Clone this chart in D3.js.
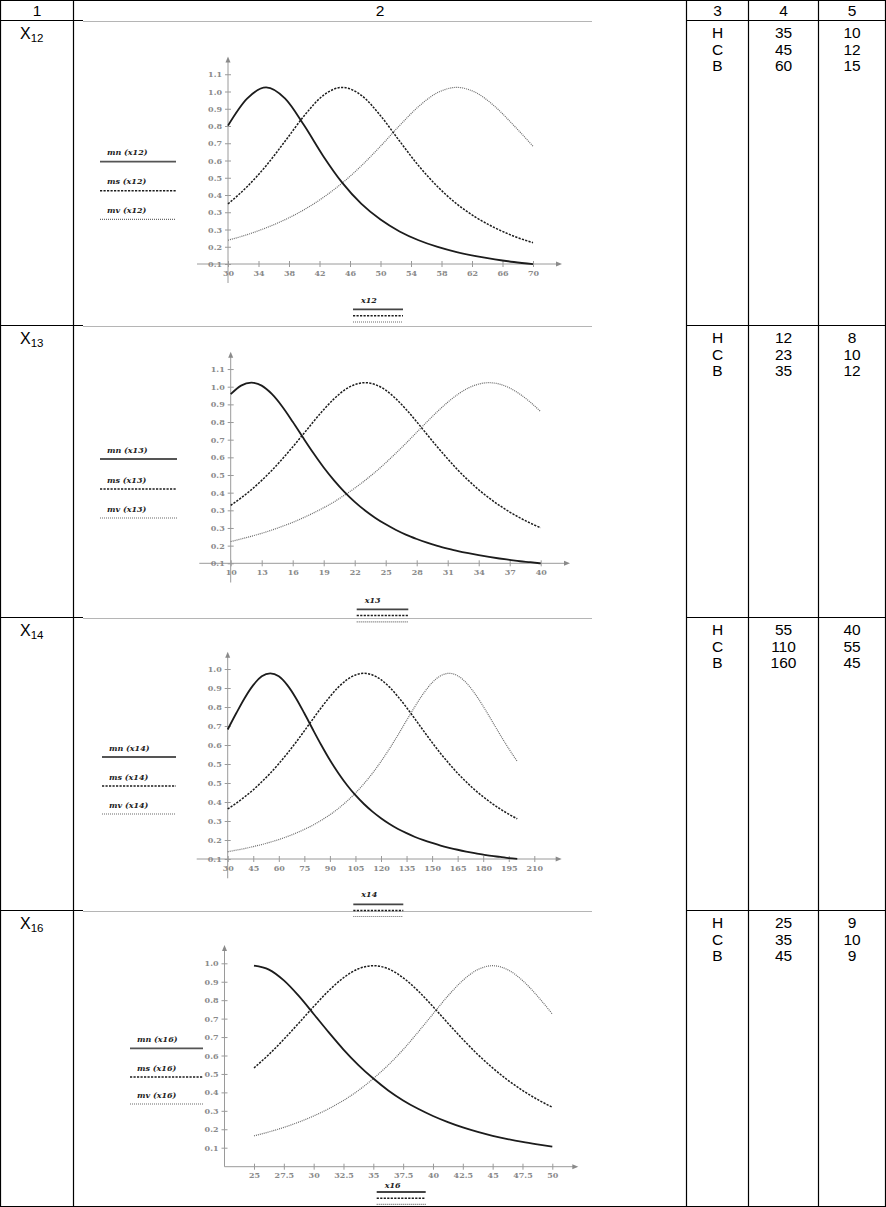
<!DOCTYPE html>
<html>
<head>
<meta charset="utf-8">
<script src="https://cdn.jsdelivr.net/npm/d3@7"></script>
<style>
  body { margin: 0; background: #fff; }
</style>
</head>
<body>
<svg id="page" width="886" height="1207"></svg>
<script>
// ---- table columns 3..5 ----
const rowNames = ["12", "13", "14", "16"];
const levels = ["H", "C", "B"];
const centers = [[35, 45, 60], [12, 23, 35], [55, 110, 160], [25, 35, 45]];
const widths = [[10, 12, 15], [8, 10, 12], [40, 55, 45], [9, 10, 9]];

// ---- x12 chart ----
const x12 = [30, 32.5, 35, 37.5, 40, 42.5, 45, 47.5, 50, 52.5, 55, 57.5, 60, 62.5, 65, 67.5, 70];
const mn12 = [0.800, 0.941, 1.000, 0.941, 0.800, 0.640, 0.500, 0.390, 0.308, 0.246, 0.200, 0.165, 0.138, 0.117, 0.100, 0.086, 0.075];
const ms12 = [0.390, 0.480, 0.590, 0.719, 0.852, 0.958, 1.000, 0.958, 0.852, 0.719, 0.590, 0.480, 0.390, 0.320, 0.265, 0.221, 0.187];
const mv12 = [0.200, 0.229, 0.265, 0.308, 0.360, 0.424, 0.500, 0.590, 0.692, 0.800, 0.900, 0.973, 1.000, 0.973, 0.900, 0.800, 0.692];
const xTicks12 = [30, 34, 38, 42, 46, 50, 54, 58, 62, 66, 70];
const yLabels12 = ["0.1", "0.2", "0.3", "0.3", "0.4", "0.5", "0.6", "0.7", "0.8", "0.9", "1.0", "1.1"];

// ---- x13 chart ----
const x13 = [10, 11, 12, 13, 14, 15, 16, 17, 18, 19, 20, 21, 22, 23, 24, 25, 26, 27, 28, 29, 30, 31, 32, 33, 34, 35, 36, 37, 38, 39, 40];
const mn13 = [0.941, 0.985, 1.000, 0.985, 0.941, 0.877, 0.800, 0.719, 0.640, 0.566, 0.500, 0.441, 0.390, 0.346, 0.308, 0.275, 0.246, 0.221, 0.200, 0.181, 0.165, 0.151, 0.138, 0.127, 0.117, 0.108, 0.100, 0.093, 0.086, 0.081, 0.075];
const ms13 = [0.372, 0.410, 0.452, 0.500, 0.552, 0.610, 0.671, 0.735, 0.800, 0.862, 0.917, 0.962, 0.990, 1.000, 0.990, 0.962, 0.917, 0.862, 0.800, 0.735, 0.671, 0.610, 0.552, 0.500, 0.452, 0.410, 0.372, 0.338, 0.308, 0.281, 0.257];
const mv13 = [0.187, 0.200, 0.214, 0.229, 0.246, 0.265, 0.285, 0.308, 0.333, 0.360, 0.390, 0.424, 0.460, 0.500, 0.543, 0.590, 0.640, 0.692, 0.746, 0.800, 0.852, 0.900, 0.941, 0.973, 0.993, 1.000, 0.993, 0.973, 0.941, 0.900, 0.852];
const xTicks13 = [10, 13, 16, 19, 22, 25, 28, 31, 34, 37, 40];
const yLabels13 = ["0.1", "0.2", "0.3", "0.3", "0.4", "0.5", "0.6", "0.7", "0.8", "0.9", "1.0", "1.1"];

// ---- x14 chart ----
const x14 = [30, 35, 40, 45, 50, 55, 60, 65, 70, 75, 80, 85, 90, 95, 100, 105, 110, 115, 120, 125, 130, 135, 140, 145, 150, 155, 160, 165, 170, 175, 180, 185, 190, 195, 200];
const mn14 = [0.719, 0.800, 0.877, 0.941, 0.985, 1.000, 0.985, 0.941, 0.877, 0.800, 0.719, 0.640, 0.566, 0.500, 0.441, 0.390, 0.346, 0.308, 0.275, 0.246, 0.221, 0.200, 0.181, 0.165, 0.151, 0.138, 0.127, 0.117, 0.108, 0.100, 0.093, 0.086, 0.081, 0.075, 0.071];
const ms14 = [0.321, 0.350, 0.382, 0.417, 0.457, 0.500, 0.548, 0.599, 0.654, 0.712, 0.771, 0.829, 0.883, 0.931, 0.968, 0.992, 1.000, 0.992, 0.968, 0.931, 0.883, 0.829, 0.771, 0.712, 0.654, 0.599, 0.548, 0.500, 0.457, 0.417, 0.382, 0.350, 0.321, 0.295, 0.272];
const mv14 = [0.107, 0.115, 0.123, 0.133, 0.143, 0.155, 0.168, 0.183, 0.200, 0.219, 0.240, 0.265, 0.292, 0.324, 0.360, 0.401, 0.448, 0.500, 0.559, 0.623, 0.692, 0.764, 0.835, 0.900, 0.953, 0.988, 1.000, 0.988, 0.953, 0.900, 0.835, 0.764, 0.692, 0.623, 0.559];
const xTicks14 = [30, 45, 60, 75, 90, 105, 120, 135, 150, 165, 180, 195, 210];
const yLabels14 = ["0.1", "0.2", "0.3", "0.4", "0.5", "0.5", "0.6", "0.7", "0.8", "0.9", "1.0"];

// ---- x16 chart ----
const x16 = [25, 26.25, 27.5, 28.75, 30, 31.25, 32.5, 33.75, 35, 36.25, 37.5, 38.75, 40, 41.25, 42.5, 43.75, 45, 46.25, 47.5, 48.75, 50];
const mn16 = [1.000, 0.981, 0.928, 0.852, 0.764, 0.675, 0.590, 0.514, 0.448, 0.390, 0.341, 0.300, 0.265, 0.235, 0.209, 0.187, 0.168, 0.152, 0.138, 0.126, 0.115];
const ms16 = [0.500, 0.566, 0.640, 0.719, 0.800, 0.877, 0.941, 0.985, 1.000, 0.985, 0.941, 0.877, 0.800, 0.719, 0.640, 0.566, 0.500, 0.441, 0.390, 0.346, 0.308];
const mv16 = [0.168, 0.187, 0.209, 0.235, 0.265, 0.300, 0.341, 0.390, 0.448, 0.514, 0.590, 0.675, 0.764, 0.852, 0.928, 0.981, 1.000, 0.981, 0.928, 0.852, 0.764];
const xTicks16 = [25, 27.5, 30, 32.5, 35, 37.5, 40, 42.5, 45, 47.5, 50];
const yLabels16 = ["0.1", "0.2", "0.3", "0.4", "0.5", "0.6", "0.7", "0.7", "0.8", "0.9", "1.0"];

// first y tick value and step between y ticks, per chart
const yFirst = [0.0755, 0.0755, 0.0707, 0.1098];
const yStep = [0.0903, 0.0904, 0.0951, 0.0902];

const charts = [
    { name: "12", x: x12, mn: mn12, ms: ms12, mv: mv12, xTicks: xTicks12, yLabels: yLabels12 },
    { name: "13", x: x13, mn: mn13, ms: ms13, mv: mv13, xTicks: xTicks13, yLabels: yLabels13 },
    { name: "14", x: x14, mn: mn14, ms: ms14, mv: mv14, xTicks: xTicks14, yLabels: yLabels14 },
    { name: "16", x: x16, mn: mn16, ms: ms16, mv: mv16, xTicks: xTicks16, yLabels: yLabels16 }
];

// where each chart sits on the page
const layouts = [
    { xr: [228, 533], yAxisX: 228, y0: 264, tickPx: 17.25, axisY: 264, yAxis: [56.5, 283], xAxis: [197, 562],
      leg: { x: [100, 176], y: [161.7, 190.7, 219.3] }, bot: { x: [353, 403], label: 303, y: [309.3, 315.8, 322] } },
    { xr: [230.7, 540.7], yAxisX: 230.7, y0: 563.3, tickPx: 17.66, axisY: 563.3, yAxis: [351.7, 582.5], xAxis: [199.3, 570],
      leg: { x: [100, 177], y: [459, 489, 518] }, bot: { x: [356.7, 408.3], label: 603, y: [609.3, 615.6, 621.8] } },
    { xr: [227.7, 534.3], yAxisX: 227.7, y0: 859, tickPx: 19, axisY: 859, yAxis: [651.7, 878.3], xAxis: [196.7, 561.7],
      leg: { x: [102, 176], y: [757, 786, 814] }, bot: { x: [353.3, 403.3], label: 896.5, y: [904.3, 910.5, 916.5] } },
    { xr: [254, 552.3], yAxisX: 224.5, y0: 1147.7, tickPx: 18.44, axisY: 1166.7, yAxis: [945, 1166.7], xAxis: [224.5, 578.3],
      leg: { x: [130, 203], y: [1048.3, 1077, 1104] }, bot: { x: [376.7, 425.7], label: 1187.5, y: [1192, 1198.3, 1204.3] } }
];

const svg = d3.select("#page");
svg.append("rect").attr("width", 886).attr("height", 1207).attr("fill", "#fff");

const serif = "'DejaVu Serif', 'Liberation Serif', serif";
const sans = "'Liberation Sans', Arial, sans-serif";
const axisGrey = "#9a9a9a";

const styles = {
    mn: { stroke: "#1c1c1c", width: 1.8, dash: null },
    ms: { stroke: "#1c1c1c", width: 1.5, dash: "2.2,1.3" },
    mv: { stroke: "#6a6a6a", width: 1.2, dash: "1,1" }
};

// ---- table grid ----
const colX = [0.5, 73.5, 686.5, 748.5, 818.5, 885.5];
const rowY = [0.5, 20.5, 325.5, 617.5, 910.5, 1206.5];
const grid = svg.append("g").attr("stroke", "#000").attr("stroke-width", 1.2);

colX.forEach(x => grid.append("line").attr("x1", x).attr("x2", x).attr("y1", 0).attr("y2", 1207));
grid.append("line").attr("x1", 0).attr("x2", 886).attr("y1", rowY[0]).attr("y2", rowY[0]);
grid.append("line").attr("x1", 0).attr("x2", 886).attr("y1", rowY[5]).attr("y2", rowY[5]);
rowY.slice(1, 5).forEach(y => {
    grid.append("line").attr("x1", 0).attr("x2", 83).attr("y1", y).attr("y2", y);
    grid.append("line").attr("x1", 686).attr("x2", 886).attr("y1", y).attr("y2", y);
    // top edge of the pasted plot picture
    svg.append("line").attr("x1", 83).attr("x2", 592).attr("y1", y + 1).attr("y2", y + 1)
        .attr("stroke", "#b5b5b5").attr("stroke-width", 1.2);
});

// header
const colCenters = [37, 380, 717.5, 783.5, 852];
["1", "2", "3", "4", "5"].forEach((t, i) => {
    svg.append("text").attr("x", colCenters[i]).attr("y", 16)
        .attr("text-anchor", "middle").attr("font-family", sans).attr("font-size", 15.5).text(t);
});

// row texts
rowNames.forEach((name, r) => {
    const top = rowY[r + 1];
    const label = svg.append("text").attr("x", 20).attr("y", top + 18)
        .attr("font-family", sans).attr("font-size", 16);
    label.append("tspan").text("X");
    label.append("tspan").attr("font-size", 11.5).attr("dy", 3).text(name);

    levels.forEach((lv, k) => {
        const yy = top + 17.5 + k * 16.6;
        svg.append("text").attr("x", colCenters[2]).attr("y", yy).attr("text-anchor", "middle")
            .attr("font-family", sans).attr("font-size", 15.5).text(lv);
        svg.append("text").attr("x", colCenters[3]).attr("y", yy).attr("text-anchor", "middle")
            .attr("font-family", sans).attr("font-size", 15.5).text(centers[r][k]);
        svg.append("text").attr("x", colCenters[4]).attr("y", yy).attr("text-anchor", "middle")
            .attr("font-family", sans).attr("font-size", 15.5).text(widths[r][k]);
    });
});

// ---- one plot ----
function drawChart(d, ci) {
    const L = layouts[ci];
    const g = svg.append("g");
    const n = d.yLabels.length;

    const x = d3.scaleLinear()
        .domain([d.xTicks[0], d.xTicks[d.xTicks.length - 1]])
        .range(L.xr);
    const y = d3.scaleLinear()
        .domain([yFirst[ci], yFirst[ci] + (n - 1) * yStep[ci]])
        .range([L.y0, L.y0 - (n - 1) * L.tickPx]);

    // axis lines with arrows
    g.append("line").attr("x1", L.yAxisX).attr("x2", L.yAxisX)
        .attr("y1", L.yAxis[0] + 5).attr("y2", L.yAxis[1])
        .attr("stroke", axisGrey).attr("stroke-width", 1);
    g.append("path")
        .attr("d", `M${L.yAxisX},${L.yAxis[0]} L${L.yAxisX - 2.5},${L.yAxis[0] + 6} L${L.yAxisX + 2.5},${L.yAxis[0] + 6} Z`)
        .attr("fill", "#8a8a8a");
    g.append("line").attr("x1", L.xAxis[0]).attr("x2", L.xAxis[1] - 5)
        .attr("y1", L.axisY).attr("y2", L.axisY)
        .attr("stroke", axisGrey).attr("stroke-width", 1);
    g.append("path")
        .attr("d", `M${L.xAxis[1]},${L.axisY} L${L.xAxis[1] - 6},${L.axisY - 2.5} L${L.xAxis[1] - 6},${L.axisY + 2.5} Z`)
        .attr("fill", "#8a8a8a");

    // x axis ticks and labels
    const xAxisG = g.append("g")
        .attr("transform", `translate(0,${L.axisY})`)
        .call(d3.axisBottom(x).tickValues(d.xTicks).tickSize(3).tickPadding(3).tickFormat(v => String(v)));
    xAxisG.select(".domain").remove();
    xAxisG.selectAll(".tick line").attr("y1", -3).attr("y2", 3).attr("stroke", axisGrey);
    xAxisG.selectAll(".tick text")
        .attr("font-family", serif).attr("font-size", 8).attr("font-weight", "bold").attr("fill", "#8a8a8a");

    // y axis ticks and labels
    const yVals = d3.range(n).map(i => yFirst[ci] + i * yStep[ci]);
    const yAxisG = g.append("g")
        .attr("transform", `translate(${L.yAxisX},0)`)
        .call(d3.axisLeft(y).tickValues(yVals).tickSize(3).tickPadding(3).tickFormat((v, i) => d.yLabels[i]));
    yAxisG.select(".domain").remove();
    yAxisG.selectAll(".tick line").attr("x1", -3).attr("x2", 3).attr("stroke", axisGrey);
    yAxisG.selectAll(".tick text")
        .attr("font-family", serif).attr("font-size", 8).attr("font-weight", "bold").attr("fill", "#8a8a8a");

    // curves
    ["mv", "ms", "mn"].forEach(key => {
        const s = styles[key];
        const line = d3.line()
            .x((v, i) => x(d.x[i]))
            .y(v => y(v))
            .curve(d3.curveMonotoneX);
        g.append("path")
            .datum(d[key])
            .attr("d", line)
            .attr("fill", "none")
            .attr("stroke", s.stroke)
            .attr("stroke-width", s.width)
            .attr("stroke-dasharray", s.dash);
    });

    // legend on the left
    ["mn", "ms", "mv"].forEach((key, k) => {
        const s = styles[key];
        g.append("text")
            .attr("x", L.leg.x[0] + 7).attr("y", L.leg.y[k] - 6.5)
            .attr("font-family", serif).attr("font-size", 8)
            .attr("font-style", "italic").attr("font-weight", "bold").attr("fill", "#222")
            .text(`${key} (x${d.name})`);
        g.append("line")
            .attr("x1", L.leg.x[0]).attr("x2", L.leg.x[1])
            .attr("y1", L.leg.y[k]).attr("y2", L.leg.y[k])
            .attr("stroke", key === "mn" ? "#555" : s.stroke)
            .attr("stroke-width", key === "mn" ? 1.8 : s.width)
            .attr("stroke-dasharray", s.dash);
    });

    // legend under the x axis
    g.append("text")
        .attr("x", L.bot.x[0] + 8).attr("y", L.bot.label)
        .attr("font-family", serif).attr("font-size", 8)
        .attr("font-style", "italic").attr("font-weight", "bold").attr("fill", "#222")
        .text(`x${d.name}`);
    ["mn", "ms", "mv"].forEach((key, k) => {
        const s = styles[key];
        g.append("line")
            .attr("x1", L.bot.x[0]).attr("x2", L.bot.x[1])
            .attr("y1", L.bot.y[k]).attr("y2", L.bot.y[k])
            .attr("stroke", key === "mn" ? "#444" : s.stroke)
            .attr("stroke-width", key === "mn" ? 1.8 : s.width)
            .attr("stroke-dasharray", s.dash);
    });
}

charts.forEach((d, i) => drawChart(d, i));
</script>
</body>
</html>
